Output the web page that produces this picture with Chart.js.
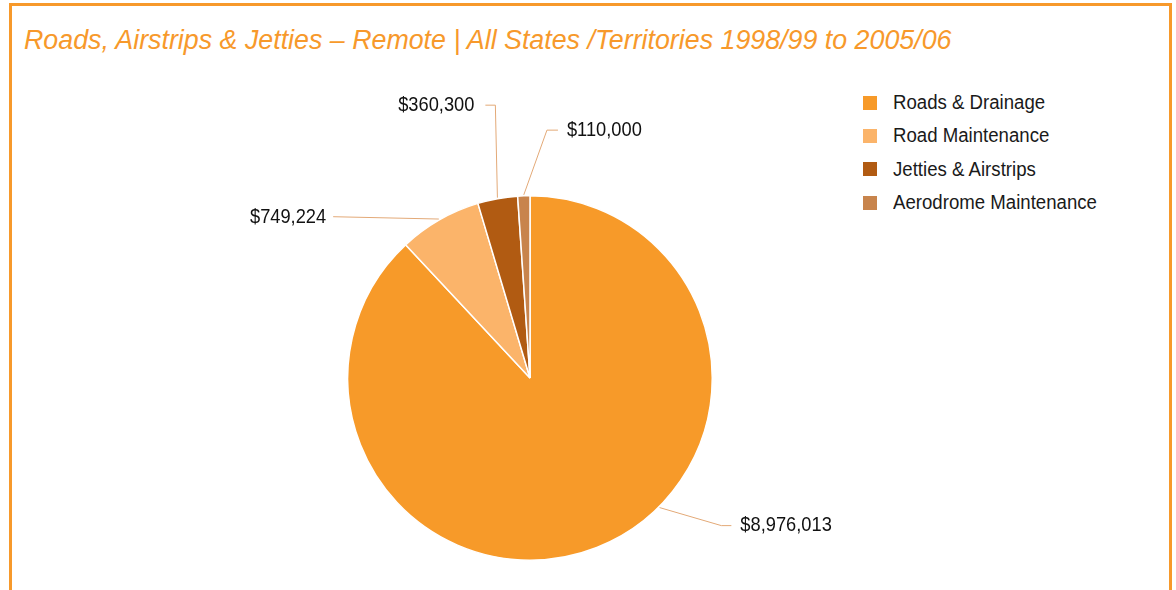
<!DOCTYPE html>
<html>
<head>
<meta charset="utf-8">
<script src="https://cdn.jsdelivr.net/npm/chart.js@4"></script>
<style>
  body { margin: 0; background: #fff; width: 1176px; height: 590px; overflow: hidden; position: relative; }
  .frame { position: absolute; left: 9px; top: 3px; width: 1157px; height: 620px; border: 3px solid #f7992b; border-bottom: none; }
  .title { position: absolute; left: 24px; top: 27px; font: italic 26.8px/1 "Liberation Sans", Arial, sans-serif; color: #f7992b; white-space: nowrap; }
  .legend { position: absolute; left: 863px; top: 86px; font: 19.5px "Liberation Sans", sans-serif; color: #1a1a1a; }
  .legend div { height: 33.3px; display: flex; align-items: center; }
  .legend span.sw { width: 14px; height: 14px; margin-right: 16px; display: inline-block; flex: none; }
  .legend span.tx { display: inline-block; transform: scaleX(0.955); transform-origin: left center; white-space: nowrap; }
  canvas { position: absolute; left: 0; top: 0; }
</style>
</head>
<body>
<div class="frame"></div>
<div class="title">Roads, Airstrips &amp; Jetties – Remote | All States /Territories 1998/99 to 2005/06</div>
<div class="legend" id="legend"></div>
<canvas id="pie" width="1176" height="590"></canvas>
<script>
const categories = ["Roads & Drainage", "Road Maintenance", "Jetties & Airstrips", "Aerodrome Maintenance"];
const amounts    = [8976013, 749224, 360300, 110000];
const colors     = ["#f79a29", "#fbb46a", "#b15b12", "#c8844c"];

// Callout elbows, relative to the pie centre in radius units; edgeAngle overrides the slice middle.
const callouts = [
  { edgeAngle: 135, elbow: [1.05, 0.81], tail: 10, gap: 9 },
  { elbow: [-1.08, -0.885], tail: 0, gap: -7 },
  { elbow: [-0.19, -1.497], tail: -10, gap: -11 },
  { elbow: [0.093, -1.36], tail: 11, gap: 9 }
];

const fmt = v => "$" + v.toLocaleString("en-US");

document.getElementById("legend").innerHTML = categories
  .map((c, i) => `<div><span class="sw" style="background:${colors[i]}"></span><span class="tx">${c.replace("&", "&amp;")}</span></div>`).join("");

const calloutPlugin = {
  id: "callouts",
  afterDatasetsDraw(chart) {
    const ctx = chart.ctx;
    const arcs = chart.getDatasetMeta(0).data;
    ctx.save();
    ctx.strokeStyle = "#e3a977";
    ctx.lineWidth = 1;
    ctx.fillStyle = "#111";
    ctx.font = '21px "Liberation Sans", sans-serif';
    ctx.textBaseline = "middle";
    arcs.forEach((arc, i) => {
      const { x, y, outerRadius, startAngle, endAngle } = arc.getProps(["x", "y", "outerRadius", "startAngle", "endAngle"], true);
      const c = callouts[i];
      const a = c.edgeAngle != null ? (c.edgeAngle - 90) * Math.PI / 180 : (startAngle + endAngle) / 2;
      const sx = x + Math.cos(a) * (outerRadius + 1);
      const sy = y + Math.sin(a) * (outerRadius + 1);
      const ex = x + c.elbow[0] * outerRadius;
      const ey = y + c.elbow[1] * outerRadius;
      const tx = ex + c.tail;
      ctx.beginPath();
      ctx.moveTo(sx, sy);
      ctx.lineTo(ex, ey);
      ctx.lineTo(tx, ey);
      ctx.stroke();
      ctx.save();
      ctx.translate(tx + c.gap, ey);
      ctx.scale(0.87, 1);
      ctx.textAlign = c.gap > 0 ? "left" : "right";
      ctx.fillText(fmt(amounts[i]), 0, 0);
      ctx.restore();
    });
    ctx.restore();
  }
};

new Chart(document.getElementById("pie"), {
  type: "pie",
  data: {
    labels: categories,
    datasets: [{
      data: amounts,
      backgroundColor: colors,
      borderColor: "#ffffff",
      borderWidth: 1.5
    }]
  },
  options: {
    responsive: false,
    animation: false,
    layout: { padding: { left: 347, right: 463, top: 195, bottom: 29 } },
    plugins: { legend: { display: false }, tooltip: { enabled: false } }
  },
  plugins: [calloutPlugin]
});
</script>
</body>
</html>
